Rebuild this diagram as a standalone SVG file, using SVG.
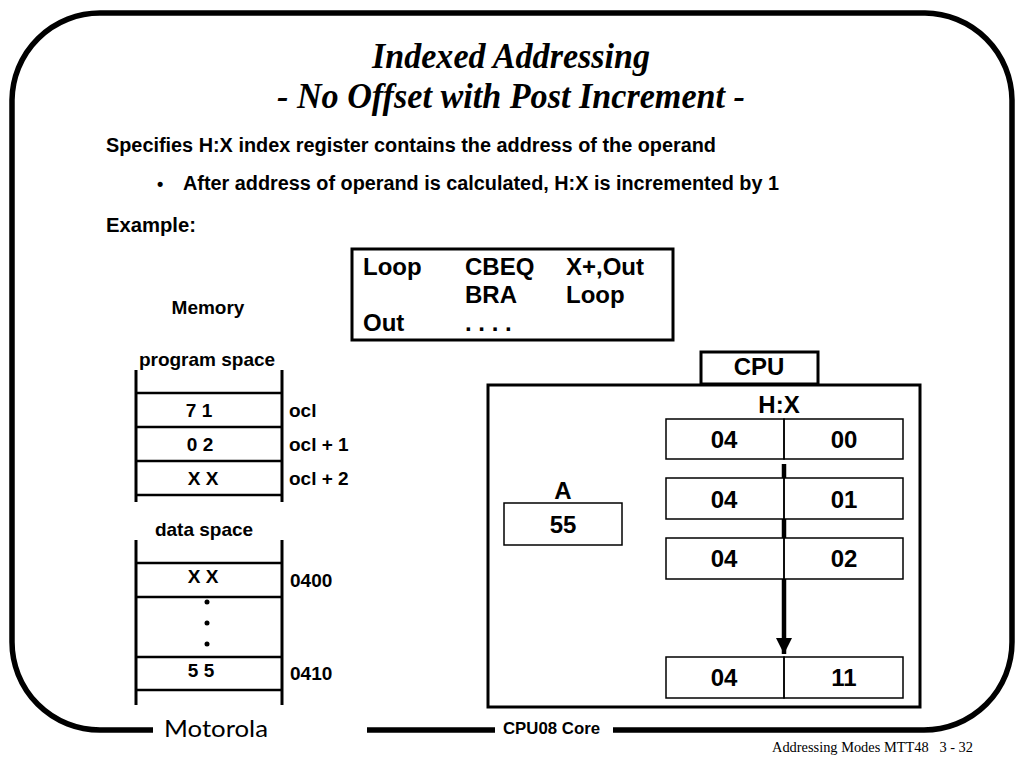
<svg xmlns="http://www.w3.org/2000/svg" width="1024" height="768" viewBox="0 0 1024 768">
<style>
.s{font-family:"Liberation Sans",Arial,sans-serif;font-weight:bold;fill:#000}
.t{font-family:"Liberation Serif","Times New Roman",serif;fill:#000}
.c{text-anchor:middle}
.thin{fill:none;stroke:#000;stroke-width:1.5}
.med{fill:none;stroke:#000;stroke-width:3}
.ml{stroke:#000;stroke-width:3}
.hl{stroke:#000;stroke-width:2.5}
.m{font-size:19px}
.r{font-size:24px}
</style>
<defs>
<marker id="ah" viewBox="0 0 16 16" refX="16" refY="8" markerWidth="16" markerHeight="16" markerUnits="userSpaceOnUse" orient="auto">
<path d="M0,0 L16,8 L0,16 z" fill="#000"/>
</marker>
</defs>
<rect width="1024" height="768" fill="#fff"/>

<g id="frame">
<path d="M153,730 H100 A88,88 0 0 1 12,642 V100 A88,88 0 0 1 100,13 H925 A88,88 0 0 1 1012,100 V642 A88,88 0 0 1 924,730 H613" fill="none" stroke="#000" stroke-width="5.5"/>
<path d="M367,730 H495" stroke="#000" stroke-width="5.5"/>
<text x="164" y="737" font-family="Lato,'Noto Sans',sans-serif" font-size="23" textLength="104" lengthAdjust="spacingAndGlyphs">Motorola</text>
<text class="s" x="503" y="734" font-size="17" textLength="97" lengthAdjust="spacingAndGlyphs">CPU08 Core</text>
<text class="t" x="772" y="752" font-size="15" textLength="201" lengthAdjust="spacingAndGlyphs" xml:space="preserve">Addressing Modes MTT48   3 - 32</text>
</g>

<g id="title">
<text class="t" x="372" y="68" font-size="36" font-weight="bold" font-style="italic" textLength="278" lengthAdjust="spacingAndGlyphs">Indexed Addressing</text>
<text class="t" x="277" y="108" font-size="36" font-weight="bold" font-style="italic" textLength="468" lengthAdjust="spacingAndGlyphs">- No Offset with Post Increment -</text>
</g>

<g id="body">
<text class="s" x="106" y="152" font-size="20" textLength="610" lengthAdjust="spacingAndGlyphs">Specifies H:X index register contains the address of the operand</text>
<text class="s" x="157" y="190" font-size="18">•</text>
<text class="s" x="183" y="190" font-size="20" textLength="596" lengthAdjust="spacingAndGlyphs">After address of operand is calculated, H:X is incremented by 1</text>
<text class="s" x="106" y="232" font-size="20" textLength="90" lengthAdjust="spacingAndGlyphs">Example:</text>
</g>

<g id="code">
<rect x="352" y="249" width="321" height="91" class="med"/>
<text class="s r" x="363" y="275">Loop</text>
<text class="s r" x="465" y="275">CBEQ</text>
<text class="s r" x="566" y="275">X+,Out</text>
<text class="s r" x="465" y="303">BRA</text>
<text class="s r" x="566" y="303">Loop</text>
<text class="s r" x="363" y="331">Out</text>
<text class="s r" x="465" y="331">. . . .</text>
</g>

<g id="memory">
<text class="s c m" x="208" y="314">Memory</text>
<text class="s c m" x="207" y="366">program space</text>
<line x1="136" y1="370" x2="136" y2="502" class="ml"/>
<line x1="282" y1="370" x2="282" y2="502" class="ml"/>
<line x1="136" y1="393" x2="282" y2="393" class="hl"/>
<line x1="136" y1="427" x2="282" y2="427" class="hl"/>
<line x1="136" y1="461" x2="282" y2="461" class="hl"/>
<line x1="136" y1="495" x2="282" y2="495" class="hl"/>
<text class="s c m" x="199" y="417">7 1</text>
<text class="s c m" x="200" y="451">0 2</text>
<text class="s c m" x="203" y="485">X X</text>
<text class="s m" x="289" y="417">ocl</text>
<text class="s m" x="289" y="451">ocl + 1</text>
<text class="s m" x="289" y="485">ocl + 2</text>

<text class="s c m" x="204" y="536">data space</text>
<line x1="136" y1="540" x2="136" y2="705" class="ml"/>
<line x1="282" y1="540" x2="282" y2="705" class="ml"/>
<line x1="136" y1="563" x2="282" y2="563" class="hl"/>
<line x1="136" y1="597" x2="282" y2="597" class="hl"/>
<line x1="136" y1="657" x2="282" y2="657" class="hl"/>
<line x1="136" y1="690" x2="282" y2="690" class="hl"/>
<text class="s c m" x="203" y="583">X X</text>
<circle cx="207" cy="602" r="2.5"/>
<circle cx="207" cy="623" r="2.5"/>
<circle cx="207" cy="644" r="2.5"/>
<text class="s c m" x="201" y="677">5 5</text>
<text class="s m" x="290" y="587">0400</text>
<text class="s m" x="290" y="680">0410</text>
</g>

<g id="cpu">
<rect x="488" y="385" width="432" height="322" class="med"/>
<rect x="701" y="352" width="117" height="32" class="med"/>
<text class="s c r" x="759" y="375">CPU</text>
</g>

<g id="regA">
<text class="s c r" x="563" y="499">A</text>
<rect x="504" y="503" width="118" height="42" class="thin"/>
<text class="s c r" x="563" y="533">55</text>
</g>

<g id="hx">
<text class="s c r" x="779" y="413">H:X</text>
<g id="hx0">
<rect x="666" y="419" width="118" height="40" class="thin"/>
<rect x="784" y="419" width="119" height="40" class="thin"/>
<text class="s c r" x="724" y="448">04</text>
<text class="s c r" x="844" y="448">00</text>
</g>
<g id="hx1">
<rect x="666" y="478" width="118" height="41" class="thin"/>
<rect x="784" y="478" width="119" height="41" class="thin"/>
<text class="s c r" x="724" y="508">04</text>
<text class="s c r" x="844" y="508">01</text>
</g>
<g id="hx2">
<rect x="666" y="538" width="118" height="41" class="thin"/>
<rect x="784" y="538" width="119" height="41" class="thin"/>
<text class="s c r" x="724" y="567">04</text>
<text class="s c r" x="844" y="567">02</text>
</g>
<g id="hx3">
<rect x="666" y="657" width="118" height="41" class="thin"/>
<rect x="784" y="657" width="119" height="41" class="thin"/>
<text class="s c r" x="724" y="686">04</text>
<text class="s c r" x="844" y="686">11</text>
</g>
</g>

<g id="connectors">
<line x1="784" y1="464" x2="784" y2="478" stroke="#000" stroke-width="4.5"/>
<line x1="784" y1="519" x2="784" y2="538" stroke="#000" stroke-width="4.5"/>
<line x1="784" y1="579" x2="784" y2="654" stroke="#000" stroke-width="4.5" marker-end="url(#ah)"/>
</g>
</svg>
